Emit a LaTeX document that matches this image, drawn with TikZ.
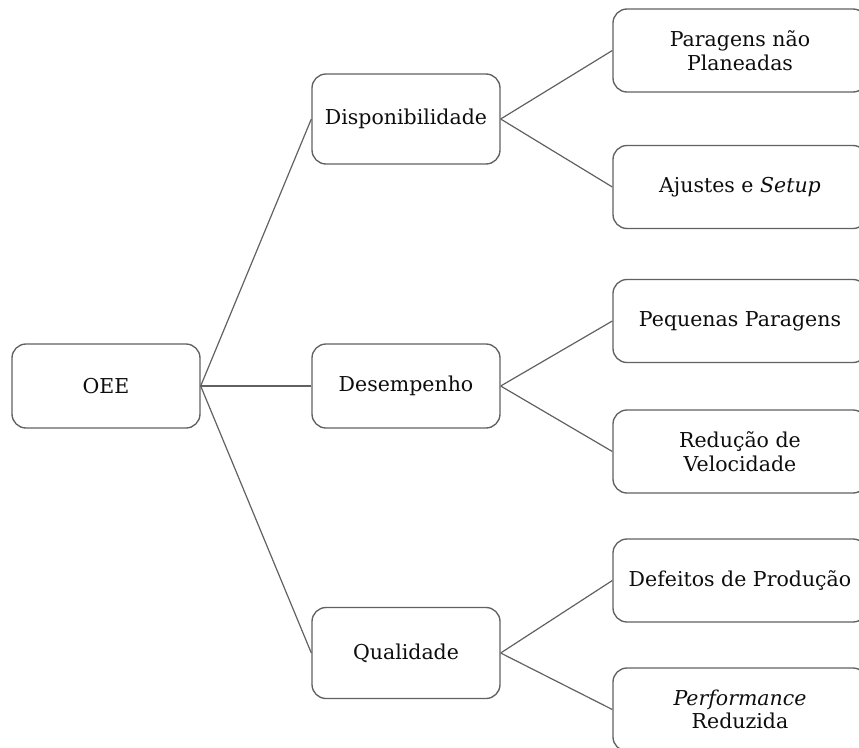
\documentclass[tikz,border=0pt]{standalone}
\usepackage{fontspec}
\setmainfont{DejaVu Serif}
\begin{document}
\begin{tikzpicture}[x=1pt,y=-1pt,
  box/.style={draw=black!62, line width=1.35pt, rounded corners=14pt,
    text=black!95, align=center, inner sep=0pt,
    font=\fontsize{20.5}{23.5}\selectfont},
  midbox/.style={box, minimum width=188pt},
  leafbox/.style={box, minimum width=254pt, minimum height=83pt},
  link/.style={draw=black!62, line width=1.2pt}]
\clip (0,0) rectangle (859,747);
% root
\node[midbox, minimum height=84pt] (oee) at (106,386) {OEE};
% OEE components
\node[midbox, minimum height=90pt] (disp) at (406,119) {Disponibilidade};
\node[midbox, minimum height=84pt] (dese) at (406,386) {Desempenho};
\node[midbox, minimum height=91pt] (qual) at (406,653) {Qualidade};
% losses
\node[leafbox] (pnp) at (740,50.5) {Paragens não\\Planeadas};
\node[leafbox] (ajs) at (740,187) {Ajustes e \textit{Setup}};
\node[leafbox] (pqp) at (740,321) {Pequenas Paragens};
\node[leafbox] (rdv) at (740,451.5) {Redução de\\Velocidade};
\node[leafbox] (dfp) at (740,580.5) {Defeitos de Produção};
\node[leafbox] (prf) at (740,709.5) {\textit{Performance}\\Reduzida};
% connectors
\draw[link] (oee.east) -- (disp.west);
\draw[link] (oee.east) -- (dese.west);
\draw[link] (oee.east) -- (qual.west);
\draw[link] (disp.east) -- (pnp.west);
\draw[link] (disp.east) -- (ajs.west);
\draw[link] (dese.east) -- (pqp.west);
\draw[link] (dese.east) -- (rdv.west);
\draw[link] (qual.east) -- (dfp.west);
\draw[link] (qual.east) -- (prf.west);
\end{tikzpicture}
\end{document}
